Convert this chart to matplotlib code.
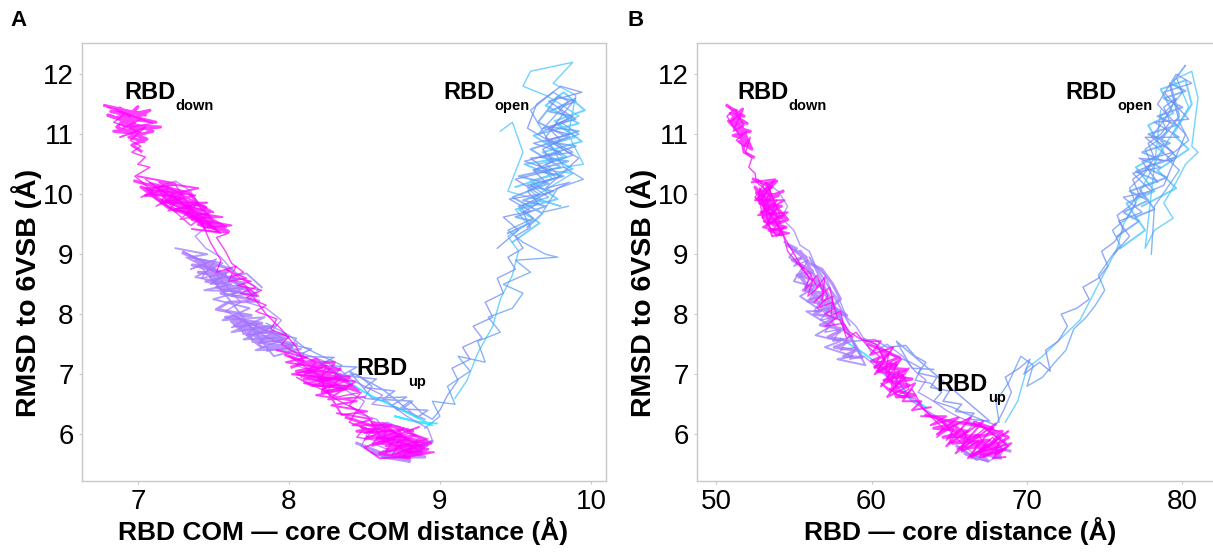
import numpy as np
import matplotlib
matplotlib.use("Agg")
import matplotlib.pyplot as plt

plt.rcParams['font.family'] = ['Liberation Sans', 'DejaVu Sans']

# ---- panel A: RBD COM - core COM distance vs RMSD
a_m1 = [(6.80,11.45),(6.95,11.30),(6.85,11.42),(7.02,11.25),(6.90,11.10),(7.10,11.18),(6.92,11.35),(6.84,11.20),
        (7.00,11.05),(6.88,10.95),(7.05,11.12),(6.95,10.90),(7.02,10.80),(6.96,10.70),(7.05,10.62),(7.00,10.50),(7.08,10.45),
        (6.98,10.30),(7.10,10.05),(7.02,9.95),(7.20,10.10),(7.15,9.85),(7.30,9.95),(7.08,10.00),(7.25,9.70),(7.35,9.80),
        (7.18,9.90),(7.40,9.60),(7.28,9.75),(7.45,9.50),(7.32,9.65),(7.50,9.45),(7.22,9.80),(7.12,10.12),(7.38,9.72),
        (7.55,9.35),(7.42,9.55),(7.48,9.20),(7.55,8.90),(7.52,8.70),(7.65,8.80),(7.60,8.55),(7.72,8.60),(7.58,8.75),
        (7.78,8.45),(7.68,8.35),(7.80,8.30),(7.70,8.50),(7.85,8.00),(7.95,7.75),(8.05,7.45),(8.10,7.20),(8.00,7.30),
        (8.15,7.05),(8.08,6.95),(8.25,7.15),(8.20,6.85),(8.35,7.00),(8.12,7.10),(8.30,6.80),(8.05,7.00),(8.40,6.90),
        (8.22,6.75),(8.30,6.60),(8.45,6.40),(8.40,6.20),(8.55,6.05),(8.50,5.90),(8.65,6.10),(8.62,5.85),(8.75,6.00),
        (8.70,5.75),(8.85,5.90),(8.80,5.70),(8.58,5.95),(8.90,5.85),(8.68,5.65),(8.78,5.95),(8.60,6.15),(8.88,5.78),(8.72,5.88)]
a_m2 = [(7.05,10.25),(7.22,9.95),(7.12,9.80),(7.30,10.02),(7.20,9.72),(7.40,9.85),(7.28,9.58),(7.48,9.70),(7.35,9.48),
        (7.15,9.92),(7.05,10.10),(7.25,10.15),(7.45,9.40),(7.60,9.35),(7.52,9.28),(7.58,9.05),(7.62,8.85),(7.70,8.70),
        (7.62,8.62),(7.75,8.55),(7.66,8.48),(7.82,8.40),(7.72,8.28),(7.85,8.15),(7.78,8.05),(7.92,7.92),(7.88,7.75),
        (8.00,7.62),(7.95,7.50),(8.05,7.35),(8.18,7.20),(8.10,7.00),(8.28,7.10),(8.18,6.90),(8.35,6.95),(8.25,6.72),
        (8.42,6.82),(8.15,6.80),(8.05,6.95),(8.32,6.62),(8.48,6.70),(8.40,6.48),(8.52,6.30),(8.60,6.00),(8.55,5.80),
        (8.70,5.92),(8.64,5.70),(8.82,5.82),(8.75,5.62),(8.90,5.78),(8.68,6.05),(8.50,6.10),(8.45,5.95),(8.62,5.88),
        (8.80,6.02),(8.92,5.92),(8.72,5.80)]
a_down = [(6.78,11.48),(7.05,11.32),(6.82,11.38),(7.12,11.20),(6.86,11.28),(7.08,11.40),(6.90,11.15),(7.15,11.12),
          (6.84,11.05),(7.02,11.00),(6.88,11.44),(6.98,11.18),(6.80,11.32),(7.10,11.05),(6.94,10.95),(7.04,10.88),
          (6.92,11.22),(7.00,11.46),(6.86,11.12),(7.06,10.92),(6.96,10.82),(7.02,10.72)]
a_d2 = [(6.98,10.22),(7.18,10.08),(7.05,9.98),(7.28,10.00),(7.10,10.15),(7.35,9.82),(7.15,9.90),(7.42,9.72),(7.22,9.85),
        (7.48,9.60),(7.30,9.70),(7.55,9.50),(7.36,9.58),(7.60,9.38),(7.40,9.50),(7.52,9.42),(7.25,9.95),(7.45,9.78),
        (7.12,10.02),(7.32,9.88),(7.02,10.12),(7.20,9.78),(7.38,9.62),(7.58,9.45),(7.44,9.65),(7.26,9.92),(7.08,10.18),
        (7.34,10.02),(7.50,9.55),(7.18,9.95)]
a_d2b = [(7.00,10.30),(7.25,10.18),(7.08,10.08),(7.38,9.98),(7.18,9.86),(7.46,9.86),(7.24,9.74),(7.56,9.62),(7.34,9.60),
         (7.62,9.48),(7.44,9.44),(7.30,9.82),(7.50,9.70),(7.14,10.20),(7.40,10.10),(7.22,10.00),(7.54,9.36),(7.36,9.42)]
a_d4 = [(7.98,7.32),(8.20,7.12),(8.05,7.05),(8.28,7.02),(8.10,6.92),(8.36,6.90),(8.16,6.82),(8.42,6.78),(8.22,6.70),
        (8.30,7.20),(8.08,7.18),(8.34,7.08),(8.14,6.98),(8.40,6.95),(8.24,6.88),(8.46,6.72),(8.18,7.25),(8.02,7.12)]
a_mband = [(7.92,7.40),(8.12,7.28),(7.98,7.20),(8.22,7.10),(8.02,7.00),(8.30,6.92),(8.10,6.85),(8.38,6.75),(8.18,6.65),
           (8.45,6.55),(8.28,6.48),(8.52,6.38),(8.35,6.32),(8.20,6.95),(8.44,6.88),(8.26,6.58),(8.50,6.62)]
a_bot = [(8.38,6.28),(8.60,6.10),(8.45,6.05),(8.70,6.02),(8.52,5.95),(8.78,5.92),(8.58,5.85),(8.85,5.82),(8.65,5.75),
         (8.92,5.75),(8.70,5.65),(8.88,5.68),(8.62,6.18),(8.82,6.05),(8.55,6.20),(8.75,5.82),(8.48,6.12),(8.68,5.90),
         (8.90,5.90),(8.60,5.68),(8.80,5.60),(8.72,6.12),(8.94,5.85),(8.66,5.98)]
a_bot2 = [(8.32,6.35),(8.55,6.25),(8.42,6.15),(8.68,6.15),(8.50,6.02),(8.76,6.08),(8.58,5.92),(8.84,5.98),(8.64,5.80),
          (8.92,5.82),(8.72,5.70),(8.96,5.70),(8.78,5.62),(8.60,5.60),(8.50,5.78),(8.86,6.12)]
a_v1 = [(7.30,9.05),(7.45,8.85),(7.35,8.75),(7.52,8.92),(7.42,8.60),(7.60,8.70),(7.48,8.50),(7.66,8.55),(7.38,8.90),
        (7.55,8.40),(7.70,8.45),(7.62,8.30),(7.78,8.35),(7.58,8.62),(7.32,8.95),(7.50,8.72),(7.68,8.20),(7.58,8.05),
        (7.70,7.90),(7.62,7.78),(7.80,7.85),(7.72,7.65),(7.90,7.72),(7.80,7.52),(7.98,7.58),(7.65,7.95),(7.85,7.62),
        (8.02,7.45),(7.92,7.40),(8.10,7.35),(8.05,7.15),(8.20,7.00),(8.30,6.85),(8.40,6.70),(8.50,6.55),(8.45,6.35),
        (8.58,6.25),(8.65,6.05),(8.55,5.85),(8.70,5.70),(8.80,5.62),(8.62,5.72),(8.88,5.72),(8.75,5.85),(8.60,5.98)]
a_v2 = [(7.10,10.10),(7.25,10.22),(7.35,10.05),(7.42,9.75),(7.50,9.55),(7.38,9.30),(7.45,9.10),(7.55,8.95),(7.62,8.75),
        (7.70,8.60),(7.80,8.42),(7.72,8.20),(7.85,8.10),(7.95,7.90),(7.88,7.70),(8.05,7.60),(8.00,7.40),(8.15,7.30),
        (8.25,7.20),(8.35,7.05),(8.42,6.90),(8.50,6.80),(8.62,6.65),(8.55,6.50),(8.70,6.45),(8.78,6.30),(8.85,6.20),
        (8.92,6.10),(8.95,5.90),(8.85,5.75),(8.70,5.60),(8.58,5.65),(8.48,5.80),(8.52,6.02),(8.65,6.20),(8.80,6.05)]
a_vblob = [(7.30,9.02),(7.50,8.80),(7.36,8.82),(7.58,8.68),(7.40,8.70),(7.65,8.58),(7.45,8.55),(7.72,8.42),(7.52,8.45),
           (7.78,8.30),(7.42,8.90),(7.62,8.75),(7.48,8.62),(7.70,8.52),(7.55,8.35),(7.80,8.22),(7.60,8.20),(7.52,8.08),
           (7.75,7.98),(7.58,7.95),(7.82,7.85),(7.64,7.82),(7.90,7.70),(7.70,7.68),(7.95,7.58),(7.76,7.55),(8.02,7.45),
           (7.82,7.45),(7.62,7.88),(7.88,7.78),(7.68,7.75),(7.98,7.66),(7.78,7.62),(8.05,7.50),(7.86,7.40)]
a_vblob2 = [(7.25,9.10),(7.46,9.00),(7.34,8.95),(7.56,8.85),(7.38,8.62),(7.62,8.50),(7.44,8.40),(7.68,8.38),(7.50,8.25),
            (7.74,8.10),(7.56,7.90),(7.84,7.95),(7.62,7.70),(7.92,7.82),(7.70,7.58),(8.00,7.62),(7.78,7.40),(8.08,7.42),
            (7.90,7.30),(7.50,8.58),(7.72,8.68),(7.82,8.45)]
a_vbot = [(8.45,5.85),(8.70,5.60),(8.55,5.70),(8.80,5.55),(8.62,5.62),(8.90,5.62),(8.75,5.72),(8.95,5.88),(8.85,5.70)]
a_b1 = [(7.85,7.85),(8.00,7.65),(8.10,7.45),(8.22,7.30),(8.35,7.15),(8.30,6.95),(8.45,7.00),(8.55,6.80),(8.50,6.60),
        (8.65,6.55),(8.72,6.40),(8.80,6.55),(8.88,6.35),(8.95,6.25),(9.00,6.40),(9.05,6.65),(9.12,6.90),(9.08,7.10),
        (9.20,7.25),(9.15,7.45),(9.28,7.60),(9.22,7.80),(9.35,7.95),(9.30,8.20),(9.42,8.35),(9.38,8.60),(9.50,8.75),
        (9.45,8.95),(9.55,9.10),(9.50,9.30),(9.60,9.45),(9.55,9.70),(9.65,9.85),(9.58,10.05),(9.70,10.20),(9.62,10.40),
        (9.75,10.55),(9.68,10.75),(9.80,10.90),(9.72,11.10),(9.85,11.25),(9.78,11.45),(9.90,11.60),(9.82,11.35),
        (9.70,10.95),(9.88,10.70),(9.60,10.60),(9.76,10.30)]
a_b2 = [(8.90,6.10),(9.00,6.30),(8.95,6.55),(9.10,6.50),(9.05,6.80),(9.20,7.05),(9.12,7.30),(9.30,7.20),(9.25,7.55),
        (9.40,7.70),(9.32,7.95),(9.48,8.10),(9.55,8.35),(9.42,8.50),(9.60,8.70),(9.50,8.90),(9.78,8.95),(9.70,9.00),
        (9.55,9.20),(9.45,9.40),(9.62,9.60),(9.52,9.80),(9.72,9.95),(9.60,10.15),(9.80,10.30),(9.70,10.50),(9.88,10.65),
        (9.75,10.85),(9.92,11.00),(9.80,11.20),(9.65,11.00),(9.85,11.55),(9.75,11.70),(9.60,11.40),(9.82,10.45),
        (9.95,10.25),(9.78,10.10),(9.68,9.70),(9.85,9.80)]
a_bmid = [(7.90,7.55),(8.15,7.42),(8.05,7.30),(8.30,7.28),(8.20,7.15),(8.45,7.12),(8.35,6.98),(8.58,6.92),(8.50,6.78),
          (8.70,6.72),(8.62,6.58),(8.82,6.55),(8.75,6.42),(8.92,6.40),(8.85,6.28),(8.62,6.75),(8.40,7.05),(8.55,6.60),
          (8.78,6.62),(8.68,6.48),(8.90,6.25)]
a_bopen = [(9.45,9.35),(9.62,9.55),(9.50,9.62),(9.70,9.80),(9.55,9.90),(9.75,10.05),(9.58,10.15),(9.82,10.30),
           (9.62,10.40),(9.85,10.55),(9.66,10.62),(9.90,10.80),(9.70,10.88),(9.92,11.05),(9.74,11.12),(9.88,11.30),
           (9.72,11.38),(9.90,11.55),(9.78,11.62),(9.65,11.20),(9.85,10.95),(9.60,10.75),(9.80,10.45),(9.52,10.30),
           (9.72,10.18),(9.48,9.95),(9.68,9.68),(9.58,9.45)]
a_bopen2 = [(9.38,9.10),(9.52,9.40),(9.42,9.62),(9.60,9.72),(9.46,9.92),(9.66,10.00),(9.50,10.25),(9.74,10.40),
            (9.56,10.55),(9.80,10.70),(9.62,10.85),(9.86,11.00),(9.68,11.10),(9.90,11.25),(9.72,11.55),(9.94,11.70),
            (9.80,11.80),(9.64,11.50),(9.58,11.10),(9.92,10.60),(9.70,10.10),(9.86,10.20),(9.54,9.80)]
a_c1 = [(9.10,6.60),(9.18,6.90),(9.25,7.35),(9.35,7.80),(9.40,8.25),(9.48,8.65),(9.52,9.05),(9.45,9.30),(9.58,9.50),
        (9.50,9.75),(9.68,9.90),(9.58,10.10),(9.75,10.25),(9.65,10.50),(9.82,10.60),(9.72,10.82),(9.90,10.95),
        (9.78,11.15),(9.92,11.30),(9.80,11.50),(9.70,11.65),(9.55,11.80),(9.60,12.05),(9.88,12.20),(9.75,11.85),
        (9.90,11.65),(9.85,11.00),(9.95,10.50),(9.70,10.40),(9.88,10.35),(9.62,9.95),(9.80,9.80),(9.45,10.05),
        (9.55,10.70),(9.48,11.20),(9.40,11.05)]
a_copen = [(9.48,9.20),(9.66,9.52),(9.52,9.75),(9.78,9.92),(9.60,10.22),(9.88,10.42),(9.68,10.70),(9.94,10.88),
           (9.76,11.22),(9.96,11.40),(9.82,11.70),(9.70,11.48),(9.92,11.18),(9.62,10.98),(9.84,10.62),(9.56,10.50),
           (9.74,10.32),(9.50,10.12)]
a_c2 = [(8.20,7.20),(8.35,6.95),(8.50,6.70),(8.62,6.55),(8.75,6.40),(8.95,6.15),(8.70,6.30),(8.85,6.20),(8.98,6.18)]

# ---- panel B: RBD - core distance vs RMSD
b_m1 = [(50.8,11.45),(51.4,11.30),(50.9,11.20),(51.6,11.35),(51.1,11.05),(51.8,11.15),(51.2,11.42),(50.7,11.30),
        (51.5,10.98),(52.0,11.05),(51.3,10.90),(51.8,10.80),(52.2,10.95),(51.9,10.70),(52.3,10.60),(52.1,10.45),(52.5,10.35),
        (52.6,10.20),(53.3,10.05),(52.8,9.90),(53.6,10.15),(53.0,9.75),(53.8,9.85),(53.2,10.20),(52.5,9.95),(53.5,9.65),
        (54.0,9.80),(53.3,9.50),(54.2,9.55),(53.6,9.40),(54.4,9.45),(53.9,9.30),(53.0,9.60),(52.7,10.05),
        (54.8,9.10),(55.6,8.75),(56.2,8.55),(55.9,8.30),(56.8,8.50),(57.2,8.30),(56.5,8.10),(57.5,8.20),(57.8,7.95),
        (57.0,7.80),(58.2,7.85),(58.6,7.70),(59.2,7.60),(60.3,7.50),(60.8,7.25),(60.4,7.05),(61.3,7.20),(61.0,6.90),
        (61.8,7.05),(61.5,6.80),(62.2,6.95),(61.2,6.70),(60.6,6.85),(62.0,6.60),(62.6,6.75),(63.4,6.40),(64.5,6.20),
        (65.2,6.05),(64.8,5.90),(65.8,6.10),(66.3,5.85),(65.5,5.75),(66.8,6.00),(67.4,5.80),(66.6,5.65),(67.8,5.95),
        (68.4,5.75),(67.2,5.62),(68.6,5.85),(67.0,6.15),(66.0,6.20),(68.2,6.05)]
b_m2 = [(52.7,10.25),(53.5,9.95),(53.0,9.70),(53.9,9.90),(53.2,9.45),(54.1,9.65),(53.4,10.10),(52.9,9.85),(53.8,9.55),
        (54.3,9.35),(54.6,9.05),(55.4,8.80),(56.0,8.60),(55.7,8.40),(56.5,8.65),(56.9,8.35),(56.3,8.20),(57.3,8.45),
        (57.6,8.10),(57.0,8.00),(58.0,7.90),(58.4,7.60),(59.0,7.70),(59.8,7.45),(60.5,7.30),(60.2,7.10),(61.1,7.35),
        (60.9,7.00),(61.6,7.20),(61.3,6.85),(62.0,7.00),(62.4,6.75),(61.7,6.65),(62.8,6.60),(63.2,6.45),(63.8,6.30),
        (64.6,6.10),(64.2,5.95),(65.3,6.15),(65.0,5.85),(66.1,6.05),(65.8,5.70),(66.9,5.90),(66.4,5.60),(67.6,5.80),
        (68.3,5.95),(67.9,5.65),(68.8,5.80),(67.3,6.10),(66.6,5.95)]
b_down = [(50.7,11.48),(51.8,11.30),(50.9,11.35),(52.0,11.18),(51.0,11.25),(51.7,11.42),(51.2,11.12),(52.2,11.05),
          (51.1,10.98),(51.9,10.92),(51.3,11.40),(51.6,11.15),(50.8,11.22),(52.1,10.85),(51.5,10.88),(52.3,10.75),
          (51.4,11.28),(51.8,10.70),(52.4,10.62)]
b_d2 = [(52.4,10.25),(53.6,10.12),(52.6,10.02),(54.0,9.98),(52.8,9.85),(54.2,9.80),(52.9,9.70),(54.4,9.62),(53.1,9.55),
        (54.5,9.45),(53.4,9.40),(54.2,9.32),(53.2,10.18),(53.9,10.22),(52.7,9.92),(53.8,9.72),(53.0,9.62),(54.1,9.52),
        (53.5,9.85),(52.5,10.12),(53.7,9.48),(54.6,9.58),(53.3,9.95),(54.3,10.05)]
b_d2b = [(52.3,10.20),(53.8,10.25),(52.5,9.90),(54.4,9.90),(52.7,9.65),(54.6,9.70),(53.0,9.45),(54.7,9.35),(53.6,9.30),
         (52.8,10.10),(53.4,9.80),(54.0,9.60)]
b_mv = [(55.2,8.85),(56.0,8.70),(56.5,8.45),(57.0,8.62),(56.8,8.20),(57.5,8.30),(57.4,7.98),(58.0,8.05),(58.3,7.70),(58.8,7.62)]
b_d4 = [(59.8,7.50),(61.2,7.35),(60.0,7.22),(61.6,7.15),(60.4,7.05),(62.0,6.98),(60.8,6.90),(62.4,6.82),(61.2,6.75),
        (62.8,6.65),(61.6,6.62),(60.6,7.40),(61.8,7.28),(60.2,7.12),(62.2,7.08),(61.0,6.98),(62.6,6.92),(61.4,6.85)]
b_mband = [(59.6,7.55),(60.6,7.55),(59.9,7.32),(61.4,7.45),(60.2,7.00),(61.9,7.25),(60.6,6.80),(62.4,7.10),(61.0,6.62),
           (62.8,6.85),(62.0,6.55),(63.2,6.55),(62.6,6.40),(63.8,6.45)]
b_bot = [(63.5,6.32),(65.5,6.18),(64.0,6.10),(66.2,6.05),(64.6,5.95),(67.0,5.98),(65.2,5.85),(67.6,5.90),(65.8,5.75),
         (68.2,5.85),(66.4,5.65),(68.6,5.75),(67.0,5.62),(68.8,5.95),(66.6,6.20),(67.8,6.10),(65.0,6.22),(66.8,5.82),
         (68.0,5.68),(65.6,5.98),(67.3,5.72),(68.4,6.05),(66.0,5.90),(64.4,6.25)]
b_bot2 = [(63.2,6.30),(64.8,6.30),(63.8,6.15),(65.6,6.28),(64.2,6.00),(66.4,6.28),(64.8,5.80),(67.2,6.22),(65.4,5.68),
          (68.0,6.18),(66.2,5.60),(68.8,6.05),(67.0,5.70),(69.0,5.85),(67.8,5.60),(68.6,5.62)]
b_v1 = [(54.6,9.15),(55.5,8.95),(55.0,8.80),(55.9,8.90),(55.3,8.60),(56.2,8.70),(55.7,8.45),(56.6,8.50),(56.0,8.25),
        (56.9,8.30),(56.3,8.05),(57.3,8.10),(56.7,7.90),(57.6,7.95),(57.0,7.70),(58.0,7.75),(57.5,7.55),(58.5,7.60),
        (58.0,7.40),(59.0,7.45),(58.6,7.25),(59.5,7.30),(60.2,7.15),(61.0,6.95),(61.8,6.75),(62.6,6.55),(63.5,6.40),
        (64.5,6.25),(65.2,6.00),(66.0,5.80),(66.8,5.62),(67.5,5.68),(68.2,5.70),(67.0,5.85),(65.8,5.95),(66.5,6.15)]
b_v2 = [(53.2,10.20),(54.0,10.05),(54.6,9.80),(54.2,9.60),(55.0,9.40),(55.4,9.15),(56.0,9.05),(56.4,8.80),(57.0,8.65),
        (57.4,8.40),(58.0,8.20),(58.4,7.95),(59.0,7.80),(59.6,7.55),(60.0,7.35),(61.0,7.50),(62.0,7.30),(62.8,7.05),
        (63.5,6.90),(63.0,6.70),(64.0,6.55),(64.8,6.40),(65.5,6.30),(66.4,6.20),(67.2,6.10),(68.0,6.00),(68.7,5.85),
        (68.3,5.65),(67.5,5.55),(66.6,5.60),(65.8,5.75)]
b_vblob = [(54.6,9.15),(55.8,8.95),(54.9,8.90),(56.2,8.72),(55.2,8.65),(56.6,8.55),(55.6,8.40),(57.0,8.35),(55.9,8.22),
           (57.3,8.15),(56.3,8.00),(57.8,7.95),(56.7,7.82),(58.2,7.75),(57.2,7.62),(58.6,7.55),(57.6,7.45),(59.0,7.40),
           (58.2,7.30),(59.4,7.28),(55.4,9.05),(56.0,8.85),(56.8,8.75),(57.5,8.50),(58.0,8.25),(57.1,8.05),(58.4,7.98),
           (56.5,8.30),(55.5,8.60),(57.9,7.70)]
b_vblob2 = [(54.4,9.20),(55.2,9.10),(54.7,8.95),(55.6,8.80),(55.0,8.55),(56.4,8.45),(55.4,8.30),(56.8,8.05),(55.8,8.05),
            (57.4,7.80),(56.4,7.65),(58.0,7.55),(57.0,7.45),(58.8,7.30),(57.8,7.25),(59.6,7.15),(56.0,8.95),(56.9,8.60),
            (57.8,8.20),(58.6,7.82)]
b_vbot = [(65.5,5.80),(66.8,5.58),(66.0,5.68),(67.5,5.55),(67.0,5.68),(68.3,5.60),(68.0,5.78),(68.9,5.72)]
b_b1 = [(59.5,7.60),(60.6,7.45),(61.5,7.30),(62.5,7.20),(63.2,7.10),(62.8,6.90),(63.8,6.85),(64.5,6.70),(64.0,6.55),
        (65.2,6.45),(66.0,6.35),(67.0,6.25),(68.0,6.15),(68.5,6.40),(69.0,6.70),(68.6,6.95),(69.5,7.10),(70.2,7.25),
        (69.8,7.00),(70.8,7.20),(71.5,7.05),(71.2,7.40),(72.0,7.55),(72.6,7.80),(72.2,8.00),(73.2,8.10),(74.0,8.25),
        (73.6,8.45),(74.6,8.60),(75.2,8.80),(74.8,9.05),(75.6,9.20),(76.2,9.40),(75.8,9.65),(76.6,9.80),(77.2,10.00),
        (76.8,10.25),(77.6,10.40),(78.2,10.60),(77.8,10.85),(78.6,11.00),(79.2,11.20),(78.8,11.45),(79.6,11.60),
        (79.0,11.30),(78.0,10.95),(79.4,10.70),(77.4,10.55),(78.4,10.20)]
b_b2 = [(68.2,6.20),(68.0,6.55),(68.8,6.85),(69.6,7.30),(70.4,7.15),(70.0,6.80),(71.0,6.95),(71.8,7.20),(72.5,7.40),
        (73.0,7.75),(73.8,7.95),(74.4,8.15),(75.0,8.40),(74.6,8.65),(75.4,8.95),(76.0,9.15),(75.5,9.40),(76.4,9.60),
        (77.0,9.85),(76.6,10.10),(77.4,10.30),(78.0,10.50),(77.6,10.75),(78.4,10.90),(79.0,11.05),(78.6,11.30),
        (79.4,11.50),(80.0,11.70),(79.6,11.95),(80.2,12.15),(79.2,11.80),(79.8,11.20),(80.4,10.90),(79.0,10.60),
        (79.8,10.40),(78.2,9.80),(78.0,9.00)]
b_bmid = [(58.8,7.55),(60.2,7.58),(61.0,7.45),(62.2,7.48),(62.8,7.30),(63.5,7.20),(63.0,7.02),(64.2,6.95),(63.8,6.78),
          (65.0,6.72),(64.6,6.55),(65.8,6.50),(65.4,6.38),(66.6,6.35),(66.2,6.25),(67.6,6.22),(61.6,7.55),(62.6,7.10),
          (64.0,7.08)]
b_bopen = [(75.8,9.30),(77.2,9.55),(76.2,9.70),(77.8,9.90),(76.6,10.05),(78.4,10.22),(77.0,10.38),(78.8,10.55),
           (77.4,10.70),(79.2,10.85),(77.8,11.00),(79.6,11.15),(78.4,11.30),(80.0,11.45),(78.8,11.60),(80.2,11.72),
           (79.2,11.85),(79.8,11.30),(78.6,10.90),(79.6,10.62),(77.6,10.45),(79.0,10.28),(77.2,10.10),(78.2,9.75),(76.8,9.60)]
b_bopen2 = [(75.6,9.00),(76.6,9.30),(75.9,9.55),(77.4,9.70),(76.2,9.95),(78.0,10.05),(76.8,10.35),(78.6,10.45),
            (77.2,10.60),(79.4,10.55),(77.6,10.95),(79.8,10.95),(78.2,11.20),(80.4,11.25),(78.8,11.70),(80.6,11.85),
            (79.6,12.00),(78.4,11.50),(80.2,11.00),(78.8,10.15),(77.0,9.95)]
b_c1 = [(68.6,6.20),(69.4,6.55),(70.0,7.10),(71.0,7.30),(72.2,7.60),(73.4,7.90),(74.2,8.30),(75.0,8.70),(75.8,9.10),
        (76.2,9.50),(76.8,9.75),(77.4,10.10),(78.0,10.40),(78.6,10.70),(79.2,10.95),(79.8,11.20),(80.4,11.45),
        (80.0,11.70),(79.4,11.90),(80.6,12.05),(81.0,11.60),(80.6,10.80),(81.0,10.70),(80.2,10.50),(79.6,10.20),
        (78.8,9.85),(79.4,9.60),(78.2,9.40),(77.6,9.10),(78.6,11.40)]
b_copen = [(76.0,9.10),(77.6,9.40),(76.4,9.85),(78.2,10.05),(77.0,10.45),(78.8,10.70),(77.8,11.15),(79.4,11.35),
           (78.6,11.75),(80.2,11.90),(80.6,11.50),(79.4,11.00),(80.4,10.75),(78.4,10.40),(79.6,10.10),(77.4,9.80)]
b_c2 = [(58.0,7.60),(59.5,7.35),(60.5,7.15),(61.5,6.95),(62.5,6.60),(63.5,6.45)]

# state labels: (x, baseline y, subscript) in data units
a_labels = [(6.91, 11.59, 'down'), (9.02, 11.59, 'open'), (8.45, 6.99, 'up')]
b_labels = [(51.35, 11.59, 'down'), (72.5, 11.59, 'open'), (64.2, 6.72, 'up')]

# trajectory colours, magenta -> violet -> blue -> cyan
magenta, magenta2 = '#ff00ff', '#f20cf5'
violet, violet2 = '#a66cff', '#9a7cff'
blue, blue2 = '#7189f7', '#5f9df5'
cyan, cyan2 = '#45c4ff', '#00e5ff'
thin, mid, thick = 1.0, 1.4, 2.2

# drawn back to front: (points, colour, line width)
panel_a = [(a_c1, cyan, thin), (a_copen, cyan, mid), (a_b2, blue2, thin),
           (a_bopen, blue2, mid), (a_bopen2, blue, thin), (a_b1, blue, thin), (a_bmid, blue, 1.1),
           (a_c2, cyan2, 1.3), (a_v2, violet2, thin), (a_vblob, violet, thick), (a_vblob2, violet2, mid),
           (a_v1, violet, thin), (a_vbot, violet, thick), (a_m2, magenta2, thin), (a_d2, magenta, thick),
           (a_d2b, magenta, mid), (a_down, magenta, thick), (a_d4, magenta, thick), (a_mband, magenta, mid),
           (a_bot, magenta, thick), (a_bot2, magenta, mid), (a_m1, magenta, thin)]
panel_b = [(b_c1, cyan, thin), (b_copen, cyan, mid), (b_b2, blue2, thin),
           (b_bopen, blue2, mid), (b_bopen2, blue, thin), (b_b1, blue, thin), (b_bmid, blue, 1.1),
           (b_c2, cyan2, 1.3), (b_v2, violet2, thin), (b_vblob, violet, thick), (b_vblob2, violet2, mid),
           (b_v1, violet, thin), (b_vbot, violet, thick), (b_m2, magenta2, thin), (b_d2, magenta, thick),
           (b_d2b, magenta, mid), (b_down, magenta, thick), (b_mv, magenta, thin), (b_d4, magenta, thick),
           (b_mband, magenta, mid), (b_bot, magenta, thick), (b_bot2, magenta, mid), (b_m1, magenta, thin)]

fig = plt.figure(figsize=(12.13, 5.52), dpi=100)
ax_a = fig.add_axes([0.0676, 0.1286, 0.432, 0.7934])
ax_b = fig.add_axes([0.5746, 0.1286, 0.4284, 0.7934])


def draw(ax, trajs):
    for pts, col, lw in trajs:
        pts = np.array(pts)
        ax.plot(pts[:, 0], pts[:, 1], color=col, lw=lw, alpha=0.75)
    for s in ax.spines.values():
        s.set_color('#c8c8c8')
        s.set_linewidth(1.0)
    ax.tick_params(length=2, width=0.8, color='#c8c8c8', labelsize=20, pad=4)
    ax.set_ylim(5.22, 12.52)
    ax.set_yticks([6, 7, 8, 9, 10, 11, 12])
    ax.set_ylabel('RMSD to 6VSB (Å)', fontsize=20.5, fontweight='bold')


def label_states(ax, labels):
    fig.canvas.draw()
    for x, y, sub in labels:
        t = ax.text(x, y, 'RBD', fontsize=17, fontweight='bold', va='baseline')
        bb = t.get_window_extent(fig.canvas.get_renderer())
        fig.text(bb.x1 / fig.bbox.width, (bb.y0 - 6) / fig.bbox.height, sub,
                 fontsize=10.5, fontweight='bold', va='baseline')


draw(ax_a, panel_a)
ax_a.yaxis.set_label_coords(-0.076, 0.43)
ax_a.set_xlim(6.63, 10.1)
ax_a.set_xticks([7, 8, 9, 10])
ax_a.set_xlabel('RBD COM — core COM distance (Å)', fontsize=19, fontweight='bold')
ax_a.xaxis.set_label_coords(0.498, -0.082)

draw(ax_b, panel_b)
ax_b.yaxis.set_label_coords(-0.077, 0.43)
ax_b.set_xlim(48.77, 82.2)
ax_b.set_xticks([50, 60, 70, 80])
ax_b.set_xlabel('RBD — core distance (Å)', fontsize=19, fontweight='bold')
ax_b.xaxis.set_label_coords(0.506, -0.082)

label_states(ax_a, a_labels)
label_states(ax_b, b_labels)

fig.text(0.009, 0.963, 'A', fontsize=16, fontweight='bold', va='center')
fig.text(0.517, 0.963, 'B', fontsize=16, fontweight='bold', va='center')

fig.savefig('out.png', dpi=100)
